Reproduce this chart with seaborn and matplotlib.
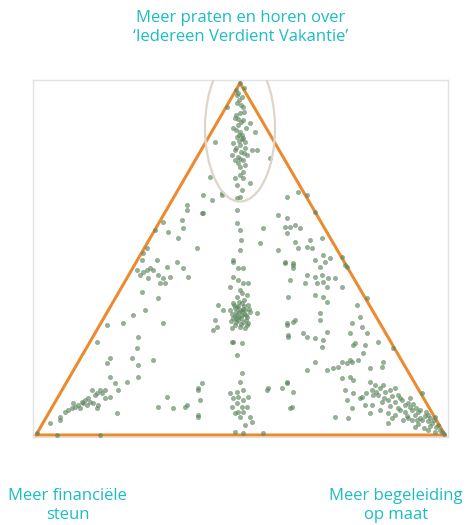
import matplotlib
matplotlib.use("Agg")
import matplotlib.pyplot as plt
from matplotlib.patches import Ellipse
import numpy as np
import pandas as pd
import seaborn as sns

# Respondent positions inside the triangle: u runs along the base (0 = left
# corner, 409 = right corner), v is the height above the base (352 = apex).
apex_u = [204, 202, 206, 201, 207, 204, 199, 207, 202, 214, 219, 197, 204, 201, 207, 197,
          204, 209, 216, 221, 196, 202, 207, 199, 204, 207, 199, 207, 214, 206, 204, 201,
          191, 203, 208, 200, 205, 210, 200, 206, 203, 209, 200, 205, 211, 202, 209, 204,
          201, 208, 200, 203, 206, 199, 204, 208, 202, 205, 201,
          179, 174, 234, 167, 176, 186, 167, 201, 201, 204, 227, 242, 251]
apex_v = [352, 342, 338, 332, 328, 322, 317, 315, 310, 312, 303, 307, 303, 298, 297, 292,
          290, 287, 285, 285, 280, 278, 275, 275, 268, 263, 257, 257, 252, 245, 238, 237,
          328, 335, 323, 320, 313, 307, 305, 300, 294, 293, 287, 283, 280, 272, 270, 260,
          250, 347, 345, 300, 296, 285, 276, 282, 316, 330, 340,
          293, 258, 277, 240, 235, 240, 222, 225, 212, 205, 207, 220, 238]

left_u = [111, 107, 106, 127, 119, 132, 142, 147, 146, 151, 151, 166, 186, 161, 121, 131,
          141, 147, 101, 107, 111, 114, 117, 104, 112, 122, 127, 134, 152, 124, 129, 106,
          122, 109, 97, 87, 127, 71, 61, 102, 101, 74, 96, 71, 117, 102, 74, 102, 79, 91,
          166, 162, 82, 131, 164, 122, 137, 149, 162, 81, 182, 187, 179, 181, 177, 196,
          197, 194]
left_v = [187, 182, 175, 213, 205, 203, 197, 207, 215, 230, 225, 222, 242, 187, 175, 168,
          173, 167, 165, 163, 165, 167, 165, 160, 157, 160, 157, 158, 158, 152, 152, 143,
          137, 125, 120, 112, 112, 110, 93, 98, 87, 77, 77, 72, 75, 70, 58, 58, 52, 53,
          52, 45, 45, 38, 35, 28, 27, 28, 18, 22, 130, 125, 115, 108, 105, 93,
          175, 148]

corner_left_u = [56, 64, 69, 59, 69, 74, 52, 49, 46, 54, 57, 62, 51, 42, 39, 36, 32, 29,
                 44, 61, 24, 24, 14, 61, 66, 47, 37, 1, 21, 64]
corner_left_v = [45, 45, 45, 40, 37, 38, 37, 35, 33, 33, 32, 30, 30, 30, 28, 27, 25, 23,
                 27, 27, 18, 15, 12, 42, 42, 32, 32, 2, 0, 0]

right_u = [262, 271, 279, 306, 309, 311, 331, 357, 386, 251, 249, 254, 259, 264, 251, 224,
           259, 274, 286, 271, 262, 242, 276, 249, 257, 257, 279, 287, 294, 289, 284, 271,
           279, 286, 292, 287, 269, 281, 299, 291, 306, 252, 279, 287, 291, 284, 284, 257,
           251, 252, 267, 271, 279, 287, 286, 291, 321, 324, 316, 326, 314, 331, 342, 319,
           329, 327, 322, 314, 306, 302, 297, 291, 279, 271, 334, 346, 347, 306, 314, 317,
           251, 246, 257, 231, 254, 299, 312, 316, 311, 309, 317, 329, 326, 334, 337, 352,
           356, 372, 381, 392, 399, 317, 316, 311]
right_v = [243, 240, 223, 178, 170, 168, 137, 87, 42, 217, 208, 208, 210, 207, 202, 192,
           193, 195, 197, 188, 187, 185, 187, 173, 172, 167, 175, 180, 177, 173, 168, 160,
           158, 160, 157, 153, 152, 152, 157, 148, 148, 138, 140, 138, 133, 122, 115, 113,
           110, 98, 102, 98, 97, 95, 88, 103, 130, 118, 112, 108, 102, 102, 93, 92,
           90, 82, 75, 75, 73, 68, 67, 65, 73, 65, 67, 68, 73, 57, 58, 55,
           53, 47, 43, 45, 27, 18, 17, 27, 35, 45, 42, 30, 38, 22, 40, 12,
           17, 17, 15, 20, 18, 90, 73, 72]

corner_right_u = [334, 339, 344, 336, 349, 354, 342, 356, 362, 352, 359, 366, 369, 362,
                  374, 376, 369, 382, 379, 384, 389, 386, 392, 396, 394, 400, 404, 406,
                  408, 347, 340, 348, 364, 372, 377, 380, 384, 390, 394, 398, 402, 374,
                  359, 346, 354, 364, 371, 376, 382, 388, 330, 324, 336, 344, 352, 359,
                  367, 379, 392, 399]
corner_right_v = [53, 50, 47, 45, 43, 45, 40, 39, 40, 35, 33, 35, 30, 27, 28, 25, 23, 23,
                  20, 17, 19, 15, 14, 12, 9, 8, 5, 3, 1, 50, 43, 37, 37, 32, 31, 27, 25,
                  23, 17, 15, 10, 37, 47, 33, 29, 25, 19, 15, 11, 7, 42, 37, 30, 25, 22,
                  20, 15, 8, 5, 3]

centre_u = [197, 202, 207, 212, 206, 211, 201, 197, 206, 212, 194, 199, 204, 209, 214, 221,
            201, 206, 211, 197, 202, 207, 212, 199, 204, 209, 196, 203, 205, 200, 208, 202,
            208, 204, 200, 210, 199, 203, 207, 201, 210, 196, 205, 213, 198, 208, 203, 200,
            206, 211, 195,
            197, 206, 201, 206, 204, 207, 201, 194, 212, 197, 202, 207,
            201, 196, 206, 211, 202, 207, 199, 204, 214, 216, 209, 199, 207, 227, 162, 151,
            162, 232, 251, 256, 251, 252, 259, 254, 249, 257, 197, 207, 204, 205, 202]
centre_v = [158, 155, 152, 152, 142, 140, 138, 132, 132, 130, 125, 127, 125, 125, 123, 122,
            120, 120, 118, 117, 115, 113, 112, 110, 108, 107, 107, 123, 117, 123, 121, 129,
            135, 145, 113, 115, 119, 118, 126, 128, 120, 121, 111, 126, 130, 129, 133, 116,
            124, 110, 114,
            93, 92, 80, 62, 53, 45, 43, 42, 38, 37, 38, 35,
            32, 28, 28, 28, 23, 23, 22, 18, 18, 13, 10, 3, 2, 2, 47, 30,
            20, 47, 52, 28, 112, 100, 115, 155, 172, 170, 173, 167, 185, 195, 167]

# Outline of the triangle (left corner, right corner, apex)
corner_u = [0, 409, 204, 0]
corner_v = [0, 0, 352, 0]

axis_labels = ["Meer praten en horen over\n\u2018Iedereen Verdient Vakantie\u2019",
               "Meer financi\u00eble\nsteun",
               "Meer begeleiding\nop maat"]

points = pd.DataFrame({
    "u": apex_u + left_u + corner_left_u + right_u + corner_right_u + centre_u,
    "v": apex_v + left_v + corner_left_v + right_v + corner_right_v + centre_v,
})

sns.set_theme(style="white")
plt.rcParams["font.family"] = ["Open Sans", "DejaVu Sans"]

fig = plt.figure(figsize=(4.69, 5.25), dpi=100)
ax = fig.add_axes([33 / 469, 88 / 525, 415 / 469, 357 / 525])

ax.plot(corner_u, corner_v, color="#ec8a2e", lw=2.2, solid_joinstyle="miter", zorder=1)

sns.scatterplot(data=points, x="u", y="v", ax=ax, s=9, color="#3f8d3f",
                edgecolor="#868686", linewidth=0.6, alpha=0.6, zorder=3, legend=False)

apex_ring = Ellipse((corner_u[2], 307), 70, 147, fill=False, edgecolor="#dcd5ca",
                    lw=1.6, zorder=4)
ax.add_patch(apex_ring)

ax.set_xlim(-3, 412)
ax.set_ylim(-2, 355)
ax.set_xlabel("")
ax.set_ylabel("")
ax.set_xticks([])
ax.set_yticks([])
for side in ax.spines.values():
    side.set_color("#e2e2e2")
    side.set_linewidth(1.0)

teal = "#1cbdc2"
fig.text(0.514, 0.948, axis_labels[0], ha="center", va="center", color=teal,
         fontsize=12, linespacing=1.25)
fig.text(0.144, 0.038, axis_labels[1], ha="center", va="center", color=teal,
         fontsize=12, linespacing=1.25)
fig.text(0.986, 0.038, axis_labels[2], ha="right", va="center", color=teal,
         fontsize=12, linespacing=1.25, multialignment="center")

fig.savefig("out.png", dpi=100)
